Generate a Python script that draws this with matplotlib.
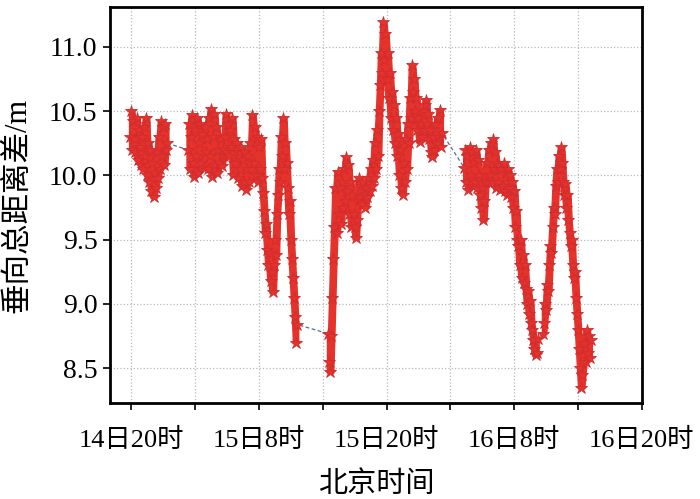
import numpy as np
import matplotlib
matplotlib.use("Agg")
import matplotlib.pyplot as plt
from matplotlib.ticker import MultipleLocator, FixedLocator

# ---------------- data (hours after 14日20时, metres) ----------------
step_h = 0.1

seg1_start = -0.1
seg1_vals = [10.30, 10.50, 10.20, 10.42, 10.28, 10.18, 10.45, 10.12, 10.35, 10.22,
             10.08, 10.30, 10.05, 10.38, 10.15, 10.45, 10.00, 10.25, 9.95, 10.20,
             9.88, 10.10, 9.83, 10.02, 9.90, 10.18, 9.98, 10.30, 10.05, 10.42,
             10.15, 10.38, 10.08, 10.40, 10.20, 10.25]

seg2_start = 5.3
seg2_vals = [10.20, 10.40, 10.05, 10.30, 10.47, 10.10, 9.99, 10.35, 10.15, 10.45,
             10.02, 10.25, 10.40, 10.10, 10.32, 10.06, 10.38, 10.18, 10.28, 10.05,
             10.45, 10.15, 10.52, 9.99, 10.30, 10.48, 10.08, 10.38, 10.02, 10.20,
             10.10, 10.28, 10.07, 10.20, 10.15, 10.30, 10.48, 10.18, 10.40, 10.15,
             10.35, 10.22, 10.45, 10.00, 10.28, 10.10, 10.25, 9.98, 10.18, 10.05,
             10.22, 9.92, 10.12, 9.95, 10.18, 9.89, 10.05, 10.15, 9.95, 10.25,
             10.05, 10.47, 10.10, 10.38, 10.00, 10.30, 9.95, 10.22, 10.05, 10.28,
             9.98, 9.86, 9.72, 9.55, 9.62, 9.42, 9.30, 9.40, 9.18, 9.25,
             9.09, 9.30, 9.50, 9.38, 9.70, 9.85, 10.05, 9.95, 10.30, 10.15,
             10.45, 10.05, 10.25, 10.10, 9.90, 9.70, 9.80, 9.50, 9.35, 9.20,
             9.05, 8.90, 8.70, 8.84]

seg3_start = 18.5
seg3_vals = [8.77, 8.55, 8.47, 8.75, 9.05, 9.35, 9.60, 9.90, 9.55, 10.03,
             9.70, 9.90, 9.62, 9.95, 9.75, 10.05, 9.80, 10.14, 9.88, 10.08,
             9.70, 9.95, 9.60, 9.85, 9.70, 9.60, 9.51, 9.65, 9.80, 9.98,
             9.83, 9.92, 9.78, 9.95, 9.85, 9.75, 9.90, 9.83, 9.98, 9.88,
             10.05, 9.92, 10.12, 9.98, 10.25, 10.05, 10.35, 10.15, 10.50, 10.70,
             10.95, 10.80, 11.19, 10.90, 11.10, 10.75, 10.95, 10.60, 10.80, 10.45,
             10.65, 10.35, 10.55, 10.25, 10.45, 10.15, 10.32, 10.00, 10.20, 9.90,
             9.85, 10.10, 9.95, 10.28, 10.05, 10.40, 10.25, 10.60, 10.45, 10.86,
             10.65, 10.75, 10.50, 10.60, 10.35, 10.45, 10.26, 10.40, 10.30, 10.50,
             10.35, 10.55, 10.59, 10.40, 10.48, 10.28, 10.35, 10.18, 10.14, 10.30,
             10.20, 10.40, 10.25, 10.45, 10.30, 10.51, 10.22, 10.33]

seg4_start = 31.3
seg4_vals = [10.06, 10.20, 9.95, 10.15, 9.89, 10.22, 10.00, 10.18, 9.92, 10.10,
             9.95, 10.20, 9.90, 10.12, 10.00, 9.85, 9.75, 9.90, 9.65, 9.80,
             9.95, 10.10, 9.95, 10.20, 10.00, 10.25, 9.95, 10.28, 10.05, 10.18,
             9.90, 10.10, 9.95, 10.08, 9.89, 10.05, 9.92, 10.10, 9.88, 10.02,
             9.85, 10.05, 9.90, 10.00, 9.83, 9.95, 9.75, 9.88, 9.60, 9.72,
             9.50, 9.45, 9.30, 9.50, 9.20, 9.38, 9.16, 9.30, 9.12, 9.00,
             9.10, 8.92, 9.02, 8.85, 8.80, 8.72, 8.65, 8.60, 8.62, 8.73]

seg5_start = 38.7
seg5_vals = [8.77, 8.85, 9.00, 8.95, 9.15, 9.10, 9.30, 9.45, 9.40, 9.60,
             9.75, 9.70, 9.92, 10.05, 9.95, 10.15, 10.05, 10.22, 10.10, 9.95,
             9.85, 9.93, 9.75, 9.85, 9.65, 9.55, 9.45, 9.50, 9.30, 9.20,
             9.25, 9.05, 8.92, 8.80, 8.65, 8.50, 8.35, 8.45, 8.60, 8.70,
             8.55, 8.80, 8.62, 8.75, 8.58, 8.72]

xtick_hours = [0, 12, 24, 36, 48]
xtick_labels = ["14日20时", "15日8时", "15日20时", "16日8时", "16日20时"]
ytick_vals = [8.5, 9.0, 9.5, 10.0, 10.5, 11.0]
xlabel = "北京时间"
ylabel = "垂向总距离差/m"

# ---------------- assemble series ----------------
segs = [(seg1_start, seg1_vals), (seg2_start, seg2_vals), (seg3_start, seg3_vals),
        (seg4_start, seg4_vals), (seg5_start, seg5_vals)]
t = np.concatenate([s + step_h * np.arange(len(v)) for s, v in segs])
y = np.concatenate([np.asarray(v, float) for _, v in segs])

# ---------------- plot ----------------
fam = ["Liberation Serif", "Noto Sans CJK SC", "DejaVu Sans"]
plt.rcParams["font.family"] = fam

red = "#e5322a"
fig = plt.figure(figsize=(7.0, 4.99), dpi=100)
ax = fig.add_axes([0.157, 0.1924, 0.76, 0.7936])

# connecting dashed line (visible only across data gaps)
ax.plot(t, y, linestyle="--", dashes=(3, 2), color="#5a6a92", linewidth=0.9, zorder=1.5)

# dense samples appear as a solid band: fill between neighbouring samples
for s, v in segs:
    vv = np.asarray(v, float)
    tt = s + step_h * np.arange(len(vv))
    pad = np.concatenate([[vv[0]] * 2, vv, [vv[-1]] * 2])
    win = np.stack([pad[k:k + len(vv)] for k in range(5)])
    lo = win.min(axis=0)
    hi = win.max(axis=0)
    ax.fill_between(tt, lo, hi, color=red, linewidth=2.5, edgecolor=red, zorder=2)

ax.plot(t, y, linestyle="none", marker="*", markersize=9, markerfacecolor=red,
        markeredgecolor="#d02c30", markeredgewidth=0.6, zorder=3)

ax.set_xlim(-2, 48)
ax.set_ylim(8.23, 11.31)

ax.xaxis.set_major_locator(FixedLocator(xtick_hours))
ax.xaxis.set_minor_locator(MultipleLocator(6))
ax.set_xticklabels(xtick_labels)
ax.set_yticks(ytick_vals)
ax.set_yticklabels([f"{v:.1f}" for v in ytick_vals])

ax.grid(True, which="both", axis="x", linestyle=":", color="#b8b8b8", linewidth=0.9)
ax.grid(True, which="major", axis="y", linestyle=":", color="#b8b8b8", linewidth=0.9)

ax.tick_params(axis="x", which="both", direction="out", length=5, width=1.2,
               labelsize=19, pad=13, top=False)
ax.tick_params(axis="y", which="major", direction="out", length=5, width=1.2,
               labelsize=20, pad=4, right=False)

for sp in ax.spines.values():
    sp.set_linewidth(2.0)
    sp.set_color("black")
    sp.set_zorder(5)

ax.set_xlabel(xlabel, fontsize=21, labelpad=14)
ax.set_ylabel(ylabel, fontsize=22, labelpad=12)

fig.savefig("out.png", dpi=100)
